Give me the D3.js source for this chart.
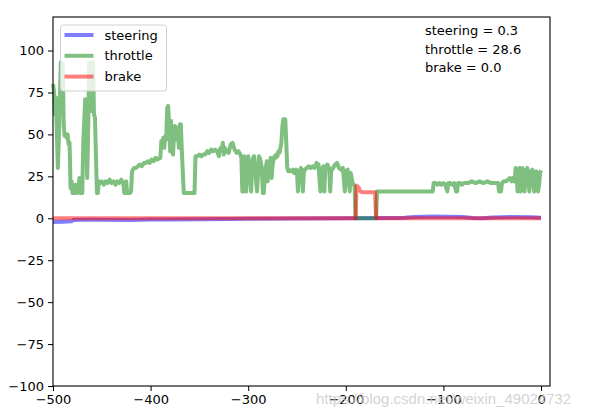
<!DOCTYPE html>
<html>
<head>
<meta charset="utf-8">
<script src="https://cdn.jsdelivr.net/npm/d3@7"></script>
<style>
  body { margin: 0; background: #fff; }
  svg { display: block; font-family: 'DejaVu Sans', sans-serif; }
</style>
</head>
<body>
<svg width="597" height="417"></svg>
<script>
const width = 597;
const height = 417;

// series: frame offset -> value
const steeringFrames = [-500, -490, -481, -479, -470, -450, -420, -400, -380, -350, -320, -300, -250, -200, -150, -140, -130, -110, -80, -70, -60, -50, -30, -10, 0];
const steeringValues = [-2.2, -2.0, -1.8, -1.1, -0.9, -0.9, -1.0, -0.8, -0.7, -0.6, -0.4, -0.3, -0.2, 0, 0.2, 0.3, 0.8, 1.0, 0.8, 0.2, 0, 0.5, 0.8, 0.6, 0.3];

const throttleFrames = [
  -500, -499, -498, -497, -496, -495, -494, -493, -492, -491, -490, -489, -488, -487, -486, -485, -484, -483, -482, -481,
  -480, -478, -477, -476, -474, -473, -472, -470, -469, -467, -466, -465, -464, -463, -462, -461, -460, -459, -458, -457,
  -455, -454, -453, -452, -450, -448, -446, -444, -442, -440, -438, -436, -434, -432, -430, -428, -427, -426, -425, -424,
  -421, -420, -419, -417, -415, -413, -411, -409, -407, -405, -403, -401, -399, -397, -395, -393, -391, -390, -389, -388,
  -387, -386, -385, -384, -383, -382, -381, -380, -379, -378, -377, -376, -375, -374, -373, -372, -371, -370, -369, -368,
  -366, -355, -354, -352, -350, -348, -346, -344, -342, -340, -338, -336, -334, -332, -330, -329, -328, -327, -326, -325,
  -324, -322, -320, -318, -316, -314, -312, -310, -308, -307, -306, -305, -304, -303, -302, -301, -300, -299, -297, -296,
  -295, -294, -293, -291, -290, -289, -288, -286, -285, -284, -283, -282, -281, -280, -279, -278, -277, -276, -275, -274,
  -273, -272, -271, -270, -269, -268, -267, -266, -265, -264, -262, -261, -260, -259, -258, -257, -256, -255, -254, -253,
  -252, -251, -250, -249, -248, -247, -246, -245, -244, -243, -242, -240, -238, -236, -234, -232, -230, -228, -226, -225,
  -224, -223, -222, -221, -219, -217, -216, -215, -213, -211, -209, -207, -205, -203, -201, -200, -198, -196, -195, -194,
  -193, -191, -190, -169, -168, -111, -110, -108, -106, -104, -102, -100, -98, -96, -95, -93, -91, -89, -87, -86,
  -85, -83, -81, -79, -75, -71, -67, -63, -59, -55, -51, -47, -44, -43, -41, -40, -38, -36, -34, -32,
  -30, -29, -28, -27, -26, -25, -24, -23, -22, -21, -20, -19, -18, -17, -16, -15, -14, -13, -12, -11,
  -10, -9, -8, -7, -6, -5, -4, -3, -2, -1, 0
];
const throttleValues = [
  80, 76, 62, 72, 50, 30, 48, 70, 93, 85, 92, 55, 49, 50, 48, 50, 44, 45, 18, 22,
  15, 15, 20, 15, 16, 24, 15, 15, 45, 71, 55, 24, 50, 93, 68, 64, 85, 93, 62, 60,
  15, 15, 22, 21, 22, 20, 22, 21, 23, 21, 22, 20, 22, 21, 23, 21, 15, 15, 22, 15,
  15, 16, 28, 30, 30, 31, 32, 31, 33, 33, 34, 33, 35, 34, 36, 35, 36, 36, 46, 44,
  48, 42, 49, 47, 66, 67, 55, 40, 58, 40, 38, 50, 55, 47, 54, 50, 42, 56, 56, 40,
  15, 15, 37, 37, 38, 37, 38, 38, 40, 39, 41, 40, 41, 40, 37, 41, 42, 41, 45, 38,
  42, 40, 39, 44, 45, 41, 39, 40, 38, 36, 16, 16, 37, 30, 16, 30, 37, 33, 16, 30,
  36, 37, 30, 16, 25, 37, 36, 30, 15, 15, 25, 30, 34, 22, 30, 33, 36, 24, 32, 35,
  37, 36, 38, 37, 40, 39, 42, 45, 55, 59, 59, 45, 30, 28, 29, 28, 28, 28, 29, 27,
  28, 29, 27, 16, 27, 29, 30, 28, 16, 27, 29, 30, 31, 30, 31, 30, 33, 32, 16, 28,
  30, 31, 16, 30, 32, 30, 16, 28, 30, 32, 33, 30, 29, 30, 16, 28, 29, 16, 27, 24,
  21, 19, 0, 0, 16, 16, 21, 21, 20, 21, 20, 21, 20, 16, 21, 21, 20, 21, 16, 16,
  21, 21, 20, 21, 21, 22, 21, 22, 21, 22, 21, 21, 21, 16, 16, 21, 22, 22, 23, 24,
  22, 24, 24, 22, 30, 25, 16, 28, 30, 16, 22, 30, 28, 16, 22, 29, 30, 25, 16, 22,
  28, 29, 25, 16, 22, 28, 27, 16, 20, 27, 28.6
];

const brakeFrames = [-500, -190, -189, -187, -185, -183, -170, -169, 0];
const brakeValues = [0, 0, 19.5, 18.5, 16, 15.5, 15.5, 0, 0];

const xTicks = [-500, -400, -300, -200, -100, 0];
const yTicks = [-100, -75, -50, -25, 0, 25, 50, 75, 100];

const series = [
  { name: 'steering', color: 'blue', frames: steeringFrames, values: steeringValues },
  { name: 'throttle', color: 'green', frames: throttleFrames, values: throttleValues },
  { name: 'brake', color: 'red', frames: brakeFrames, values: brakeValues }
];

const margin = { top: 17, right: 47, bottom: 31, left: 53 };
const graphWidth = width - margin.left - margin.right;
const graphHeight = height - margin.top - margin.bottom;

const svg = d3.select('svg');

const xScale = d3.scaleLinear().domain([-500, 9.2]).range([0, graphWidth]);
const yScale = d3.scaleLinear().domain([-100, 120]).range([graphHeight, 0]);

const graph = svg
  .append('g')
  .attr('transform', `translate(${margin.left}, ${margin.top})`);

const line = d3
  .line()
  .x(d => xScale(d[0]))
  .y(d => yScale(d[1]));

graph
  .selectAll('path.series')
  .data(series)
  .enter()
  .append('path')
  .attr('class', 'series')
  .attr('d', s => line(s.frames.map((f, i) => [f, s.values[i]])))
  .attr('fill', 'none')
  .attr('stroke', s => s.color)
  .attr('stroke-opacity', 0.5)
  .attr('stroke-width', 4)
  .attr('stroke-linejoin', 'round')
  .attr('stroke-linecap', 'butt');

const xAxis = d3.axisBottom(xScale).tickValues(xTicks).tickSize(5).tickPadding(4);
graph
  .append('g')
  .attr('transform', `translate(0, ${graphHeight})`)
  .call(xAxis);

const yAxis = d3.axisLeft(yScale).tickValues(yTicks).tickSize(5).tickPadding(4);
graph.append('g').call(yAxis);

graph.selectAll('.tick text').attr('font-size', 13).attr('font-family', 'DejaVu Sans').attr('fill', '#000');
graph.selectAll('.domain').remove();

graph
  .append('rect')
  .attr('width', graphWidth)
  .attr('height', graphHeight)
  .attr('fill', 'none')
  .attr('stroke', '#000')
  .attr('stroke-width', 1.1);

// legend, upper left
const legend = graph.append('g').attr('transform', 'translate(7.5, 8)');
legend
  .append('rect')
  .attr('width', 106)
  .attr('height', 66)
  .attr('rx', 3)
  .attr('fill', '#fff')
  .attr('fill-opacity', 0.8)
  .attr('stroke', '#d0d0d0');

const items = legend
  .selectAll('g.item')
  .data(series)
  .enter()
  .append('g')
  .attr('class', 'item')
  .attr('transform', (d, i) => `translate(0, ${10 + i * 20.8})`);

items
  .append('line')
  .attr('x1', 4)
  .attr('x2', 33)
  .attr('stroke', d => d.color)
  .attr('stroke-opacity', 0.5)
  .attr('stroke-width', 4);

items
  .append('text')
  .text(d => d.name)
  .attr('x', 44)
  .attr('dy', '0.35em')
  .attr('font-size', 13);

// current readings, upper right
const readings = graph.append('g').attr('transform', `translate(${425 - margin.left}, ${30.5 - margin.top})`);
readings
  .selectAll('text')
  .data(series)
  .enter()
  .append('text')
  .text(d => `${d.name} = ${d.values[d.values.length - 1].toFixed(1)}`)
  .attr('y', (d, i) => i * 18.5)
  .attr('dy', '0.35em')
  .attr('font-size', 13);

svg
  .append('text')
  .text('https://blog.csdn.net/weixin_49024732')
  .attr('x', 316)
  .attr('y', 404)
  .attr('font-family', 'Liberation Sans, Arial, sans-serif')
  .attr('font-size', 15)
  .attr('fill', '#c8c8c8')
  .attr('fill-opacity', 0.8);
</script>
</body>
</html>
